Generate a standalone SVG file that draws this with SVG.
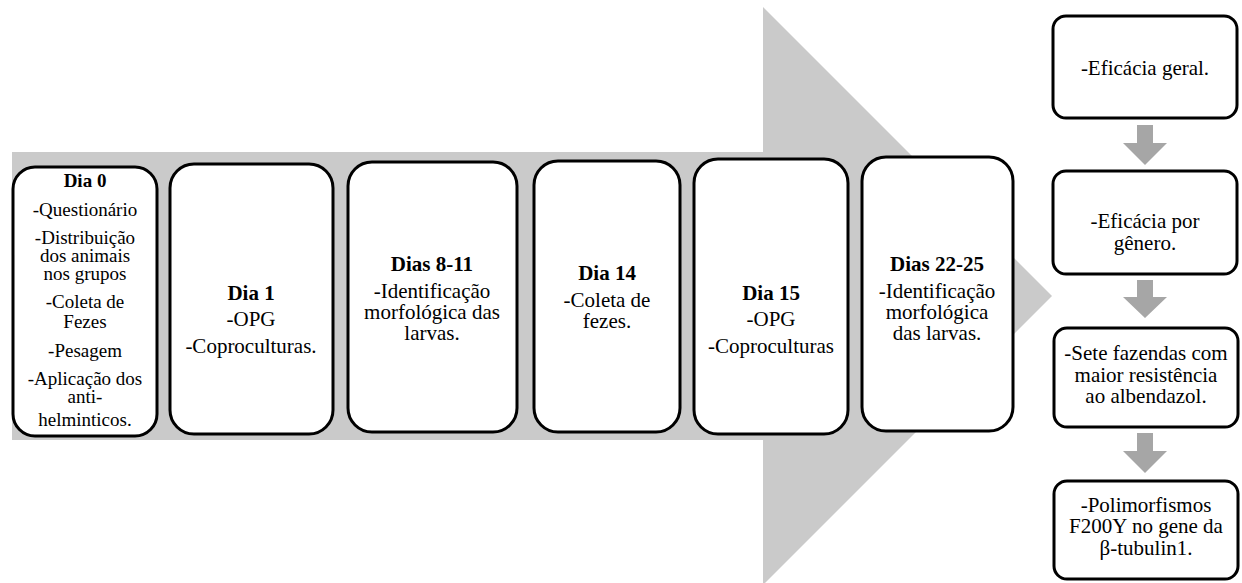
<svg xmlns="http://www.w3.org/2000/svg" width="1242" height="583" viewBox="0 0 1242 583">
<style>
.day{fill:#fff;stroke:#000;stroke-width:3}
.res{fill:#fff;stroke:#000;stroke-width:3}
text{font-family:"Liberation Serif","Tinos","Times New Roman","DejaVu Serif",serif;font-size:21px;fill:#000;text-anchor:middle}
.b{font-weight:bold}
.s{font-size:19px}
.down{fill:#a6a6a6}
</style>
<rect width="1242" height="583" fill="#fff"/>
<g id="timeline-arrow">
<polygon points="12,152 763,152 763,7 1052,296 763,585 763,440 12,440" fill="#cacaca"/>
</g>
<g id="dia0">
<rect class="day" x="13" y="167" width="144" height="269" rx="22"/>
<text class="b s" x="85" y="187">Dia 0</text>
<text class="s" x="85" y="216">-Questionário</text>
<text class="s" x="85" y="244">-Distribuição</text>
<text class="s" x="85" y="262">dos animais</text>
<text class="s" x="85" y="280">nos grupos</text>
<text class="s" x="85" y="308">-Coleta de</text>
<text class="s" x="85" y="328">Fezes</text>
<text class="s" x="85" y="357">-Pesagem</text>
<text class="s" x="85" y="385">-Aplicação dos</text>
<text class="s" x="85" y="403">anti-</text>
<text class="s" x="85" y="426">helminticos.</text>
</g>
<g id="dia1">
<rect class="day" x="170" y="164" width="163" height="270" rx="24"/>
<text class="b" x="251" y="300">Dia 1</text>
<text x="251" y="326">-OPG</text>
<text x="251" y="353">-Coproculturas.</text>
</g>
<g id="dias8-11">
<rect class="day" x="348" y="162" width="169" height="270" rx="24"/>
<text class="b" x="432" y="271">Dias 8-11</text>
<text x="432" y="298">-Identificação</text>
<text x="432" y="319">morfológica das</text>
<text x="432" y="340">larvas.</text>
</g>
<g id="dia14">
<rect class="day" x="534" y="161" width="146" height="271" rx="24"/>
<text class="b" x="607" y="280">Dia 14</text>
<text x="607" y="307">-Coleta de</text>
<text x="607" y="328">fezes.</text>
</g>
<g id="dia15">
<rect class="day" x="694" y="159" width="154" height="275" rx="24"/>
<text class="b" x="771" y="300">Dia 15</text>
<text x="771" y="326">-OPG</text>
<text x="771" y="353">-Coproculturas</text>
</g>
<g id="dias22-25">
<rect class="day" x="862" y="157" width="151" height="274" rx="24"/>
<text class="b" x="937" y="271">Dias 22-25</text>
<text x="937" y="298">-Identificação</text>
<text x="937" y="319">morfológica</text>
<text x="937" y="340">das larvas.</text>
</g>
<g id="connectors">
<polygon class="down" points="1137,125 1153,125 1153,143 1167,143 1145,165 1123,143 1137,143"/>
<polygon class="down" points="1137,280 1153,280 1153,297 1167,297 1145,318 1123,297 1137,297"/>
<polygon class="down" points="1137,433 1153,433 1153,451 1167,451 1145,473 1123,451 1137,451"/>
</g>
<g id="eficacia-geral">
<rect class="res" x="1053" y="16" width="184" height="102" rx="13"/>
<text x="1145" y="75">-Eficácia geral.</text>
</g>
<g id="eficacia-genero">
<rect class="res" x="1053" y="171" width="184" height="103" rx="13"/>
<text x="1145" y="228">-Eficácia por</text>
<text x="1145" y="250">gênero.</text>
</g>
<g id="sete-fazendas">
<rect class="res" x="1054" y="328" width="184" height="99" rx="13"/>
<text x="1146" y="360">-Sete fazendas  com</text>
<text x="1146" y="382">maior resistência</text>
<text x="1146" y="403">ao albendazol.</text>
</g>
<g id="polimorfismos">
<rect class="res" x="1054" y="481" width="184" height="98" rx="13"/>
<text x="1146" y="512">-Polimorfismos</text>
<text x="1146" y="533">F200Y no gene da</text>
<text x="1146" y="555">β-tubulin1.</text>
</g>
</svg>
